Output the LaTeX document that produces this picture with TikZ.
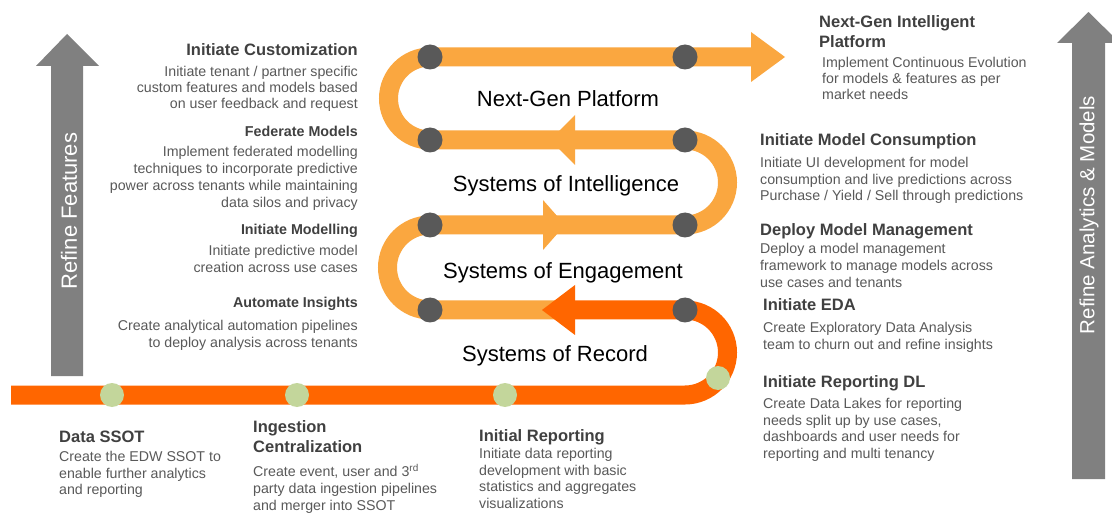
\documentclass[tikz,border=0pt]{standalone}
\usepackage{fontspec}
\setmainfont{Liberation Sans}
\definecolor{pathLight}{HTML}{FAA740}
\definecolor{pathDark}{HTML}{FF6600}
\definecolor{dotGray}{HTML}{595959}
\definecolor{dotGreen}{HTML}{C3D69B}
\definecolor{arrowGray}{HTML}{808080}
\definecolor{headCol}{HTML}{404040}
\definecolor{bodyCol}{HTML}{595959}
\tikzset{
  band/.style={line width=19pt},
  graydot/.style={circle, fill=dotGray, minimum size=25pt, inner sep=0},
  greendot/.style={circle, fill=dotGreen, minimum size=24pt, inner sep=0},
  head/.style={font=\fontsize{16.5}{20.5}\selectfont\bfseries, text=headCol, inner sep=0},
  subhead/.style={font=\fontsize{14.3}{17}\selectfont\bfseries, text=headCol, inner sep=0},
  body/.style={font=\fontsize{14.2}{16.7}\selectfont, text=bodyCol, inner sep=0},
  bodyL/.style={body, align=left, anchor=north west},
  bodyR/.style={body, align=right, anchor=north east},
  rowlabel/.style={font=\fontsize{22}{26}\selectfont, text=black, inner sep=0, anchor=base},
  sidelabel/.style={rotate=90, text=white, inner sep=0}
}
\begin{document}
\begin{tikzpicture}[x=1pt, y=-1pt]
\useasboundingbox (0,0) rectangle (1112,513);
\fill[white] (0,0) rectangle (1112,513);
\clip (0,0) rectangle (1112,513);

% turning points of the serpentine
\coordinate (aL) at (430,57);  \coordinate (aR) at (685,57);
\coordinate (bL) at (430,140); \coordinate (bR) at (685,140);
\coordinate (cL) at (430,225); \coordinate (cR) at (685,225);
\coordinate (dL) at (430,310); \coordinate (dR) at (685,310);
\coordinate (eR) at (685,395);
\coordinate (start) at (11,395);
\coordinate (dMid) at (560,310);
\coordinate (dHead) at (575,310);
\coordinate (aEnd) at (751,57);

% side arrows
\fill[arrowGray] (51,376) -- (51,66) -- (36,66) -- (67,34) -- (99,66) -- (83,66) -- (83,376) -- cycle;
\fill[arrowGray] (1072,479) -- (1072,43) -- (1057,43) -- (1088.5,12) -- (1120,43) -- (1105,43) -- (1105,479) -- cycle;
\node[sidelabel, font=\fontsize{22}{26}\selectfont] (tFeat) at (69,211) {Refine Features};
\node[sidelabel, font=\fontsize{20.5}{24}\selectfont] (tAna) at (1089,215) {Refine Analytics \& Models};

% upper (light) part of the road
\draw[band, pathLight] (dMid) -- (dL) arc(90:270:42.5) -- (cR) arc(90:-90:42.5) -- (bL) arc(90:270:41.5) -- (aEnd);
\fill[pathLight] (751,32) -- (785,57) -- (751,82) -- cycle;
\fill[pathLight] (575,115) -- (550,140) -- (575,165) -- cycle;
\fill[pathLight] (543,200) -- (565,225) -- (543,250) -- cycle;

% lower (dark) part of the road
\draw[band, pathDark] (start) -- (eR) arc(90:-90:42.5) -- (dHead);
\fill[pathDark] (575,285) -- (542,310) -- (575,335) -- cycle;

% milestones
\node[graydot] (g1) at (aL) {};
\node[graydot] (g2) at (aR) {};
\node[graydot] (g3) at (bL) {};
\node[graydot] (g4) at (bR) {};
\node[graydot] (g5) at (cL) {};
\node[graydot] (g6) at (cR) {};
\node[graydot] (g7) at (dL) {};
\node[graydot] (g8) at (dR) {};
\node[greendot] (s1) at (112,395) {};
\node[greendot] (s2) at (297,395) {};
\node[greendot] (s3) at (505,395) {};
\node[greendot] (s4) at (718,378) {};

% stage names
\node[rowlabel] (lNext) at (568,107) {Next-Gen Platform};
\node[rowlabel] (lIntel) at (566,192) {Systems of Intelligence};
\node[rowlabel] (lEng) at (563,279) {Systems of Engagement};
\node[rowlabel] (lRec) at (555,362) {Systems of Record};

% left column
\node[head, anchor=base east] (hCust) at (358,56) {Initiate Customization};
\node[bodyR, font=\fontsize{14.2}{15.8}\selectfont] (bCust) at (358,66.5) {Initiate tenant / partner specific\\custom features and models based\\on user feedback and request};
\node[subhead, anchor=base east] (hFed) at (358,137) {Federate Models};
\node[bodyR] (bFed) at (358,146.5) {Implement federated modelling\\techniques to incorporate predictive\\power across tenants while maintaining\\data silos and privacy};
\node[subhead, anchor=base east] (hMod) at (358,235) {Initiate Modelling};
\node[bodyR] (bMod) at (358,245) {Initiate predictive model\\creation across use cases};
\node[subhead, anchor=base east] (hAuto) at (358,308) {Automate Insights};
\node[bodyR] (bAuto) at (358,320) {Create analytical automation pipelines\\to deploy analysis across tenants};

% right column
\node[head, align=left, anchor=north west] (hNext) at (819,15) {Next-Gen Intelligent\\Platform};
\node[bodyL, font=\fontsize{14.2}{16}\selectfont] (bNext) at (822,57) {Implement Continuous Evolution\\for models \& features as per\\market needs};
\node[head, anchor=base west] (hCons) at (760,146) {Initiate Model Consumption};
\node[bodyL] (bCons) at (760,157) {Initiate UI development for model\\consumption and live predictions across\\Purchase / Yield / Sell through predictions};
\node[head, anchor=base west] (hMgmt) at (760,236) {Deploy Model Management};
\node[bodyL] (bMgmt) at (760,243.5) {Deploy a model management\\framework to manage models across\\use cases and tenants};
\node[head, anchor=base west] (hEDA) at (763,311) {Initiate EDA};
\node[bodyL] (bEDA) at (763,322) {Create Exploratory Data Analysis\\team to churn out and refine insights};
\node[head, anchor=base west] (hDL) at (763,387) {Initiate Reporting DL};
\node[bodyL] (bDL) at (763,398) {Create Data Lakes for reporting\\needs split up by use cases,\\dashboards and user needs for\\reporting and multi tenancy};

% bottom row
\node[head, anchor=base west] (hSSOT) at (59,442) {Data SSOT};
\node[bodyL] (bSSOT) at (59,451) {Create the EDW SSOT to\\enable further analytics\\and reporting};
\node[head, align=left, anchor=north west] (hIng) at (253,420) {Ingestion\\Centralization};
\node[bodyL] (bIng) at (253,464) {Create event, user and 3\textsuperscript{rd}\\party data ingestion pipelines\\and merger into SSOT};
\node[head, anchor=base west] (hRep) at (479,441) {Initial Reporting};
\node[bodyL] (bRep) at (479,448) {Initiate data reporting\\development with basic\\statistics and aggregates\\visualizations};
\end{tikzpicture}
\end{document}
